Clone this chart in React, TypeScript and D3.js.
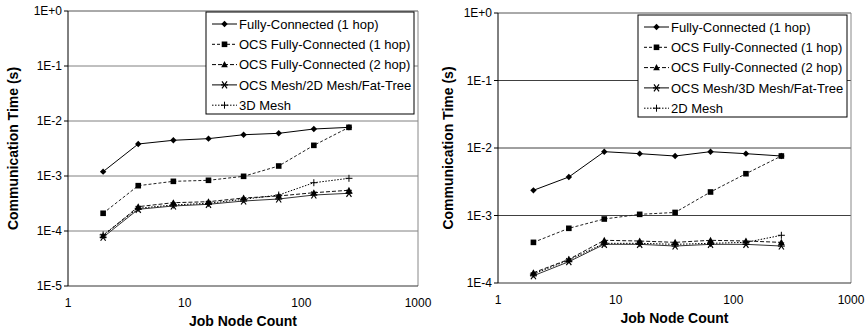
import React from 'react';
import * as d3 from 'd3';

const nodeCounts = [2, 4, 8, 16, 32, 64, 128, 256];

// left chart
const leftFc1 = [1.2e-3, 3.82e-3, 4.46e-3, 4.78e-3, 5.63e-3, 5.97e-3, 7.15e-3, 7.67e-3];
const leftOcsFc1 = [2.1e-4, 6.67e-4, 8.0e-4, 8.35e-4, 9.87e-4, 1.52e-3, 3.61e-3, 7.67e-3];
const leftOcsFc2 = [8.2e-5, 2.77e-4, 3.27e-4, 3.41e-4, 3.98e-4, 4.33e-4, 4.97e-4, 5.5e-4];
const leftOcsMesh = [7.7e-5, 2.48e-4, 2.85e-4, 3.06e-4, 3.51e-4, 3.82e-4, 4.51e-4, 4.85e-4];
const leftMesh3d = [8.5e-5, 2.59e-4, 2.97e-4, 3.19e-4, 3.77e-4, 4.51e-4, 7.55e-4, 9.08e-4];

// right chart
const rightFc1 = [2.36e-3, 3.72e-3, 8.82e-3, 8.24e-3, 7.61e-3, 8.82e-3, 8.24e-3, 7.61e-3];
const rightOcsFc1 = [4.0e-4, 6.46e-4, 8.87e-4, 1.04e-3, 1.11e-3, 2.23e-3, 4.16e-3, 7.61e-3];
const rightOcsFc2 = [1.42e-4, 2.24e-4, 4.29e-4, 4.19e-4, 4.0e-4, 4.29e-4, 4.19e-4, 4.0e-4];
const rightOcsMesh = [1.28e-4, 2.07e-4, 3.74e-4, 3.74e-4, 3.53e-4, 3.74e-4, 3.74e-4, 3.53e-4];
const rightMesh2d = [1.36e-4, 2.19e-4, 3.87e-4, 3.87e-4, 3.74e-4, 3.87e-4, 4.0e-4, 5.09e-4];

const leftYTicks = [1, 1e-1, 1e-2, 1e-3, 1e-4, 1e-5];
const rightYTicks = [1, 1e-1, 1e-2, 1e-3, 1e-4];
const xTicks = [1, 10, 100, 1000];

const leftNames = [
  'Fully-Connected (1 hop)',
  'OCS Fully-Connected (1 hop)',
  'OCS Fully-Connected (2 hop)',
  'OCS Mesh/2D Mesh/Fat-Tree',
  '3D Mesh',
];
const rightNames = [
  'Fully-Connected (1 hop)',
  'OCS Fully-Connected (1 hop)',
  'OCS Fully-Connected (2 hop)',
  'OCS Mesh/3D Mesh/Fat-Tree',
  '2D Mesh',
];

const styles = [
  { dash: null, marker: 'diamond', stroke: '#000' },
  { dash: '3,2', marker: 'square', stroke: '#222' },
  { dash: '4,2', marker: 'triangle', stroke: '#111' },
  { dash: null, marker: 'star', stroke: '#333' },
  { dash: '1.5,1.5', marker: 'plus', stroke: '#000' },
];

const tickLabel = (v: number) => {
  const e = Math.round(Math.log10(v));
  return e === 0 ? '1E+0' : `1E${e}`;
};

const Marker = ({ type, x, y }: { type: string; x: number; y: number }) => {
  if (type === 'diamond')
    return <path d={`M${x},${y - 3.2}L${x + 3.2},${y}L${x},${y + 3.2}L${x - 3.2},${y}Z`} fill="#000" />;
  if (type === 'square') return <rect x={x - 2.8} y={y - 2.8} width={5.6} height={5.6} fill="#000" />;
  if (type === 'triangle')
    return <path d={`M${x},${y - 3.5}L${x + 3.3},${y + 2.6}L${x - 3.3},${y + 2.6}Z`} fill="#000" />;
  if (type === 'star')
    return (
      <g stroke="#000" strokeWidth={1.2}>
        <line x1={x - 3.5} y1={y} x2={x + 3.5} y2={y} />
        <line x1={x - 2.5} y1={y - 3.5} x2={x + 2.5} y2={y + 3.5} />
        <line x1={x + 2.5} y1={y - 3.5} x2={x - 2.5} y2={y + 3.5} />
      </g>
    );
  return (
    <g stroke="#000" strokeWidth={1}>
      <line x1={x - 3.5} y1={y} x2={x + 3.5} y2={y} />
      <line x1={x} y1={y - 3.5} x2={x} y2={y + 3.5} />
    </g>
  );
};

type ChartProps = {
  left: number;
  right: number;
  top: number;
  bottom: number;
  yTicks: number[];
  series: number[][];
  names: string[];
  legend: { x: number; y: number; w: number; h: number };
  gridColor: string;
  titleX: number;
};

const Chart = ({ left, right, top, bottom, yTicks, series, names, legend, gridColor, titleX }: ChartProps) => {
  const x = d3.scaleLog().domain([1, 1000]).range([left, right]);
  const y = d3
    .scaleLog()
    .domain([d3.min(yTicks) as number, 1])
    .range([bottom, top]);
  const line = d3
    .line<[number, number]>()
    .x((d) => x(d[0]))
    .y((d) => y(d[1]));

  return (
    <g fontFamily="'Liberation Sans', Arial, sans-serif">
      {/* gridlines */}
      {yTicks
        .filter((t) => t !== 1 && t !== yTicks[yTicks.length - 1])
        .map((t) => (
          <line key={t} x1={left} x2={right} y1={y(t)} y2={y(t)} stroke={gridColor} strokeWidth={1} />
        ))}
      <line x1={left} x2={right} y1={top} y2={top} stroke="#555" />
      <line x1={right} x2={right} y1={top} y2={bottom} stroke="#888" />
      <line x1={left} x2={right} y1={bottom} y2={bottom} stroke="#333" />
      <line x1={left} x2={left} y1={top} y2={bottom} stroke="#000" />
      {yTicks.map((t) => (
        <g key={t}>
          <line x1={left - 4} x2={left} y1={y(t)} y2={y(t)} stroke="#000" />
          <text x={left - 6} y={y(t) + 4.3} fontSize={12} textAnchor="end" fill="#000">
            {tickLabel(t)}
          </text>
        </g>
      ))}
      {xTicks.map((t) => (
        <text key={t} x={x(t)} y={bottom + 21} fontSize={12} textAnchor="middle" fill="#000">
          {t}
        </text>
      ))}
      <text x={(left + right) / 2} y={bottom + 40} fontSize={14} fontWeight="bold" textAnchor="middle">
        Job Node Count
      </text>
      <text
        transform={`translate(${titleX},${(top + bottom) / 2}) rotate(-90)`}
        fontSize={14}
        fontWeight="bold"
        textAnchor="middle"
      >
        Communication Time (s)
      </text>

      {/* series */}
      {series.map((vals, i) => {
        const pts = nodeCounts.map((n, j) => [n, vals[j]] as [number, number]);
        const s = styles[i];
        return (
          <g key={i}>
            <path
              d={line(pts) || ''}
              fill="none"
              stroke={s.stroke}
              strokeWidth={1}
              strokeDasharray={s.dash || undefined}
            />
            {pts.map((p, j) => (
              <Marker key={j} type={s.marker} x={x(p[0])} y={y(p[1])} />
            ))}
          </g>
        );
      })}

      {/* legend */}
      <rect x={legend.x} y={legend.y} width={legend.w} height={legend.h} fill="#fff" stroke="#000" />
      {names.map((name, i) => {
        const ly = legend.y + 12 + i * 20.3;
        const s = styles[i];
        return (
          <g key={name}>
            <line
              x1={legend.x + 6}
              x2={legend.x + 31}
              y1={ly}
              y2={ly}
              stroke="#000"
              strokeDasharray={s.dash || undefined}
            />
            <Marker type={s.marker} x={legend.x + 18.5} y={ly} />
            <text x={legend.x + 33} y={ly + 4.6} fontSize={13} fill="#000">
              {name}
            </text>
          </g>
        );
      })}
    </g>
  );
};

export default function App() {
  return (
    <svg
      width={867}
      height={333}
      style={{ position: 'absolute', left: 0, top: 0, background: '#fff' }}
    >
      <rect width={867} height={333} fill="#fff" />
      <Chart
        left={68}
        right={418}
        top={11}
        bottom={286}
        yTicks={leftYTicks}
        series={[leftFc1, leftOcsFc1, leftOcsFc2, leftOcsMesh, leftMesh3d]}
        names={leftNames}
        legend={{ x: 206, y: 12, w: 208, h: 102 }}
        gridColor="#808080"
        titleX={18}
      />
      <Chart
        left={498}
        right={851}
        top={13}
        bottom={283}
        yTicks={rightYTicks}
        series={[rightFc1, rightOcsFc1, rightOcsFc2, rightOcsMesh, rightMesh2d]}
        names={rightNames}
        legend={{ x: 638, y: 15, w: 209, h: 102 }}
        gridColor="#404040"
        titleX={453}
      />
    </svg>
  );
}
